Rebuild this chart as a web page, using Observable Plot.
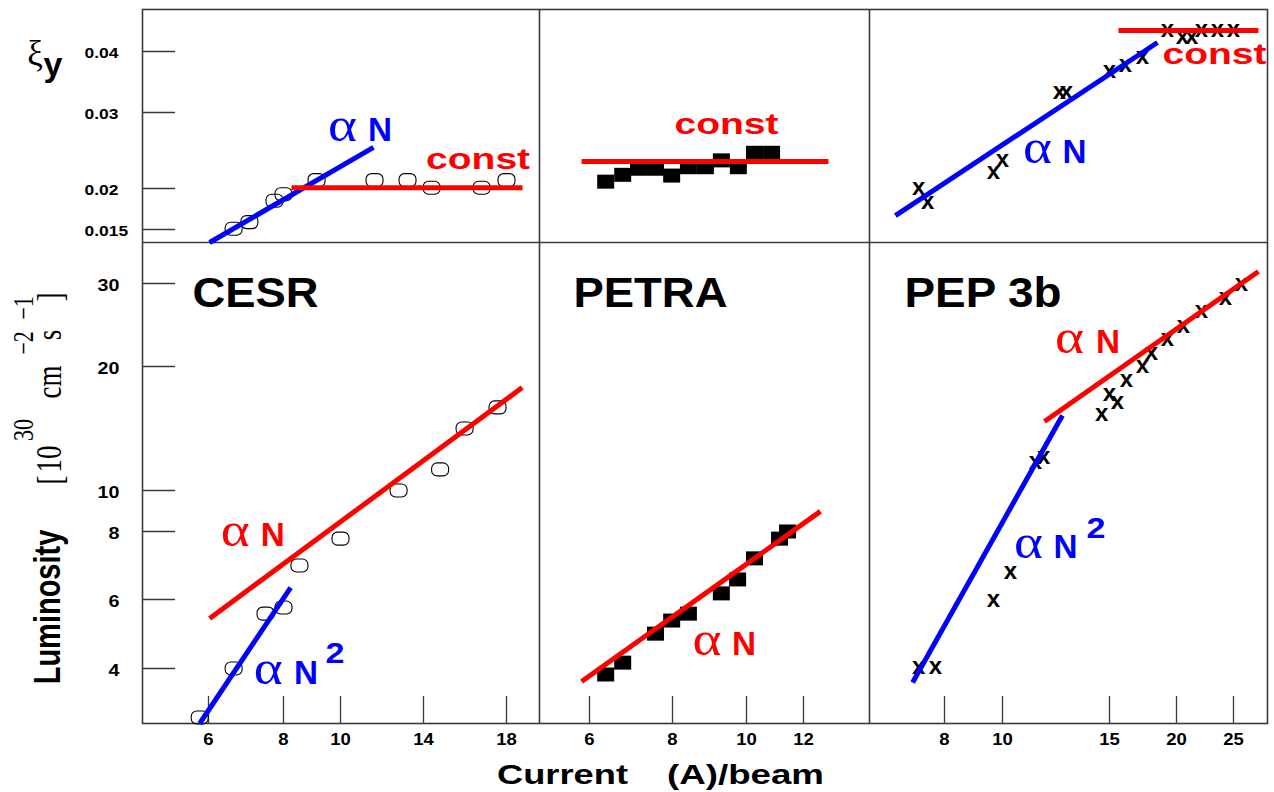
<!DOCTYPE html>
<html><head><meta charset="utf-8">
<script src="https://cdn.jsdelivr.net/npm/d3@7"></script>
<script src="https://cdn.jsdelivr.net/npm/@observablehq/plot@0.6"></script>
<style>
html,body{margin:0;padding:0;background:#fff;overflow:hidden;}
#chart{position:relative;width:1274px;height:792px;background:#fff;}
</style></head><body><div id="chart"></div>
<script>
// ---------------- data ----------------
const machines = ["CESR", "PETRA", "PEP 3b"];

const cesrXiCurrent = [6.67, 7.09, 7.76, 8.0, 9.16, 11.64, 13.23, 14.39, 16.8, 18.0];
const cesrXi = [0.0151, 0.0159, 0.0185, 0.0193, 0.0211, 0.0211, 0.0211, 0.0201, 0.0201, 0.0211];
const cesrLumCurrent = [5.82, 6.67, 7.52, 8.0, 8.56, 10.0, 12.8, 14.8, 15.98, 17.57];
const cesrLum = [3.02, 4.0, 5.59, 5.77, 7.0, 7.79, 10.0, 11.7, 15.0, 16.7];

const petraXiCurrent = [6.39, 6.80, 7.18, 7.59, 7.98, 8.43, 8.89, 9.32, 9.78, 10.28, 10.88];
const petraXi = [0.0209, 0.0218, 0.0226, 0.0226, 0.0217, 0.0228, 0.0228, 0.0237, 0.0228, 0.0247, 0.0247];
const petraLumCurrent = [6.39, 6.80, 7.59, 7.98, 8.43, 9.32, 9.76, 10.28, 11.16, 11.44];
const petraLum = [3.88, 4.17, 5.01, 5.39, 5.59, 6.18, 6.59, 7.21, 7.79, 8.0];

const pepXiCurrent = [7.31, 7.55, 9.69, 10.0, 12.66, 12.99, 15.0, 16.19, 17.46, 19.33, 20.53, 21.32, 22.19, 23.6, 25.0];
const pepXi = [0.0200, 0.0183, 0.0220, 0.0236, 0.0333, 0.0333, 0.0367, 0.0377, 0.0389, 0.0435, 0.0423, 0.0423, 0.0435, 0.0435, 0.0435];
const pepLumCurrent = [7.31, 7.76, 9.69, 10.37, 11.54, 11.92, 14.63, 15.0, 15.6, 16.27, 17.46, 18.13, 19.33, 20.61, 22.19, 24.3, 25.85];
const pepLum = [4.02, 4.02, 5.97, 6.79, 12.26, 12.66, 16.13, 17.74, 17.1, 18.87, 20.0, 21.57, 23.25, 24.82, 26.63, 28.19, 29.88];

// fitted lines (end points, current vs value)
const cesrXiFitN = [[6.03, 0.0142], [11.59, 0.0254]];
const cesrXiFitConst = [[8.28, 0.0201], [19.02, 0.0201]];
const cesrLumFitN = [[6.03, 5.45], [19.0, 18.3]];
const cesrLumFitN2 = [[5.82, 2.9], [8.25, 6.35]];
const petraXiFitConst = [[5.85, 0.02355], [13.08, 0.02355]];
const petraLumFitN = [[5.85, 3.74], [12.73, 8.98]];
const pepXiFitN = [[6.69, 0.0167], [18.58, 0.0415]];
const pepXiFitConst = [[15.67, 0.0435], [27.64, 0.0435]];
const pepLumFitN = [[11.96, 15.56], [27.64, 31.93]];
const pepLumFitN2 = [[7.15, 3.72], [12.8, 16.05]];

// tick values
const cesrTicks = [6, 8, 10, 14, 18];
const petraTicks = [6, 8, 10, 12];
const pepTicks = [8, 10, 15, 20, 25];
const xiTicks = [0.015, 0.02, 0.03, 0.04];
const lumTicks = [4, 6, 8, 10, 20, 30];

// annotations (data coordinates)
const cesrXiNotes = [
  {text: "α", x: 10.10, y: 0.0263, color: "blue"},
  {text: "N", x: 11.90, y: 0.0263, color: "blue"},
  {text: "const", x: 16.63, y: 0.02263, color: "red"}
];
const cesrLumNotes = [
  {text: machines[0], x: 7.25, y: 27.2, color: "black"},
  {text: "α", x: 6.71, y: 7.56, color: "red"},
  {text: "N", x: 7.71, y: 7.56, color: "red"},
  {text: "α", x: 7.59, y: 3.70, color: "blue"},
  {text: "N", x: 8.79, y: 3.70, color: "blue"},
  {text: "2", x: 9.81, y: 4.17, color: "blue"}
];
const petraXiNotes = [
  {text: "const", x: 9.46, y: 0.02711, color: "red"}
];
const petraLumNotes = [
  {text: machines[1], x: 7.47, y: 27.2, color: "black"},
  {text: "α", x: 8.93, y: 4.38, color: "red"},
  {text: "N", x: 9.93, y: 4.38, color: "red"}
];
const pepXiNotes = [
  {text: "const", x: 23.33, y: 0.03787, color: "red"},
  {text: "α", x: 11.64, y: 0.02342, color: "blue"},
  {text: "N", x: 13.36, y: 0.02342, color: "blue"}
];
const pepLumNotes = [
  {text: machines[2], x: 9.33, y: 27.2, color: "black"},
  {text: "α", x: 13.13, y: 21.57, color: "red"},
  {text: "N", x: 14.93, y: 21.57, color: "red"},
  {text: "α", x: 11.21, y: 7.21, color: "blue"},
  {text: "N", x: 12.94, y: 7.21, color: "blue"},
  {text: "2", x: 14.37, y: 7.82, color: "blue"}
];

// ---------------- layout / styles ----------------
const W = 1274, H = 792;
const SANS = "'Liberation Sans', Arial, Helvetica, sans-serif";
const SERIF = "'Liberation Serif', 'Times New Roman', serif";
const COLORS = {red: "#ff0000", blue: "#0000ff", black: "#000000"};
const LINE = "#3a3a3a";
// piecewise position scales (break values -> page pixels)
const scales = {
  cesrX: {domain: [4.65, 6, 8, 10, 14, 18, 20.1], range: [142, 208, 283, 340, 423, 506, 539]},
  petraX: {domain: [5.05, 6, 8, 10, 12, 14.85], range: [539, 589, 672, 746, 803, 869]},
  pepX: {domain: [6.0, 8, 10, 15, 20, 25, 28.6], range: [869, 944, 1002, 1109, 1176, 1233, 1267]},
  xiY: {domain: [0.0142, 0.015, 0.02, 0.03, 0.04, 0.047], range: [242, 229, 188, 112, 51, 9]},
  lumY: {domain: [2.9, 4, 6, 8, 10, 20, 30, 36.6], range: [723, 668, 599, 531, 490, 366, 283, 242]}
};
const labelWidths = {"CESR": 126, "PETRA": 154, "PEP 3b": 157, "const": 104, "α": 29, "N": 24, "2": 19, "Current": 131, "(A)/beam": 157};

const pts = (xs, ys) => xs.map((x, i) => ({x, y: ys[i]}));
const seg = (p) => p.map(([x, y]) => ({x, y}));

const ovalSymbol = {draw(ctx) {
  const w = 8.5, h = 6.5, r = 5.5;
  ctx.moveTo(-w + r, -h); ctx.lineTo(w - r, -h); ctx.arcTo(w, -h, w, -h + r, r);
  ctx.lineTo(w, h - r); ctx.arcTo(w, h, w - r, h, r);
  ctx.lineTo(-w + r, h); ctx.arcTo(-w, h, -w, h - r, r);
  ctx.lineTo(-w, -h + r); ctx.arcTo(-w, -h, -w + r, -h, r); ctx.closePath();
}};
const boxSymbol = {draw(ctx) { ctx.rect(-8.5, -7, 17, 14); }};

function fit(p, color) {
  return Plot.line(seg(p), {x: "x", y: "y", stroke: COLORS[color], strokeWidth: 5, strokeLinecap: "butt"});
}
function notes(list) {
  return list.map(n => {
    const o = {x: "x", y: "y", text: "text", fill: COLORS[n.color], lineAnchor: "bottom", textAnchor: "middle"};
    if (n.text === "α") Object.assign(o, {fontFamily: SERIF, fontSize: 48});
    else if (machines.includes(n.text)) Object.assign(o, {fontFamily: SANS, fontWeight: "bold", fontSize: 42});
    else if (n.text === "N") Object.assign(o, {fontFamily: SANS, fontWeight: "bold", fontSize: 34});
    else Object.assign(o, {fontFamily: SANS, fontWeight: "bold", fontSize: 30});
    return Plot.text([n], o);
  });
}
const tickFont = {fontFamily: SANS, fontWeight: "bold", fill: "#000"};
function xAxisMarks(ticks) {
  return [
    Plot.ruleX(ticks, {x: d => d, insetTop: 687, stroke: LINE, strokeWidth: 1.3}),
    Plot.text(ticks, {x: d => d, text: d => String(d), frameAnchor: "bottom", lineAnchor: "middle", dy: 16, fontSize: 16, ...tickFont})
  ];
}
function yAxisMarks(ticks, anchor, dx, size) {
  return [
    Plot.ruleY(ticks, {y: d => d, insetRight: 1092, stroke: LINE, strokeWidth: 1.3}),
    Plot.text(ticks, {y: d => d, text: d => String(d), frameAnchor: "left", textAnchor: anchor, dx, dy: 2, lineAnchor: "middle", fontSize: size, ...tickFont})
  ];
}
function xMarkers(xs, ys) {
  return Plot.text(pts(xs, ys), {x: "x", y: "y", text: () => "x", fontFamily: SANS, fontWeight: "bold", fontSize: 24, lineAnchor: "middle", dy: -1.5, fill: "#000"});
}

function panel(xs, ys, marks) {
  return Plot.plot({
    width: W, height: H,
    marginLeft: 142, marginRight: 7, marginTop: 9, marginBottom: 69,
    x: {type: "linear", domain: xs.domain, range: xs.range, axis: null},
    y: {type: "linear", domain: ys.domain, range: ys.range, axis: null},
    style: "background:transparent;overflow:visible;position:absolute;left:0;top:0;max-width:none;",
    marks
  });
}

const panels = [
  panel(scales.cesrX, scales.xiY, [
    Plot.frame({stroke: LINE, strokeWidth: 1.6}),
    Plot.ruleX([scales.cesrX.domain[scales.cesrX.domain.length - 1]], {stroke: LINE, strokeWidth: 1.6}),
    Plot.ruleY([scales.xiY.domain[0]], {stroke: LINE, strokeWidth: 1.6}),
    ...yAxisMarks(xiTicks, "start", -58, 15),
    Plot.dot(pts(cesrXiCurrent, cesrXi), {x: "x", y: "y", symbol: ovalSymbol, stroke: "#000", strokeWidth: 1.1, fill: "none"}),
    fit(cesrXiFitN, "blue"), fit(cesrXiFitConst, "red"),
    ...notes(cesrXiNotes)
  ]),
  panel(scales.cesrX, scales.lumY, [
    ...yAxisMarks(lumTicks, "end", -23, 17),
    ...xAxisMarks(cesrTicks),
    Plot.dot(pts(cesrLumCurrent, cesrLum), {x: "x", y: "y", symbol: ovalSymbol, stroke: "#000", strokeWidth: 1.1, fill: "none"}),
    fit(cesrLumFitN, "red"), fit(cesrLumFitN2, "blue"),
    ...notes(cesrLumNotes)
  ]),
  panel(scales.petraX, scales.xiY, [
    Plot.dot(pts(petraXiCurrent, petraXi), {x: "x", y: "y", symbol: boxSymbol, fill: "#000", stroke: "none"}),
    fit(petraXiFitConst, "red"),
    ...notes(petraXiNotes)
  ]),
  panel(scales.petraX, scales.lumY, [
    ...xAxisMarks(petraTicks),
    Plot.dot(pts(petraLumCurrent, petraLum), {x: "x", y: "y", symbol: boxSymbol, fill: "#000", stroke: "none"}),
    fit(petraLumFitN, "red"),
    ...notes(petraLumNotes)
  ]),
  panel(scales.pepX, scales.xiY, [
    Plot.ruleX([scales.pepX.domain[0]], {stroke: LINE, strokeWidth: 1.6}),
    xMarkers(pepXiCurrent, pepXi),
    fit(pepXiFitN, "blue"), fit(pepXiFitConst, "red"),
    ...notes(pepXiNotes)
  ]),
  panel(scales.pepX, scales.lumY, [
    ...xAxisMarks(pepTicks),
    xMarkers(pepLumCurrent, pepLum),
    fit(pepLumFitN, "red"), fit(pepLumFitN2, "blue"),
    ...notes(pepLumNotes)
  ])
];

const chart = document.getElementById("chart");
panels.forEach(p => chart.appendChild(p));

// axis titles
const titles = d3.create("svg").attr("width", W).attr("height", H)
  .attr("style", "position:absolute;left:0;top:0;overflow:visible;");
titles.append("text").attr("x", 35).attr("y", 65).attr("text-anchor", "middle")
  .attr("font-family", SERIF).attr("font-size", 35).text("ξ");
titles.append("text").attr("x", 53).attr("y", 76).attr("text-anchor", "middle")
  .attr("font-family", SANS).attr("font-weight", "bold").attr("font-size", 34).text("y");
titles.append("text").attr("transform", "translate(60,607) rotate(-90) scale(1,1.3)").attr("text-anchor", "middle")
  .attr("font-family", SANS).attr("font-weight", "bold").attr("font-size", 29).text("Luminosity");
const unitPieces = [
  {t: "[", y: 480, b: 62, s: 27}, {t: "10", y: 459, b: 61, s: 27}, {t: "30", y: 430, b: 33, s: 22},
  {t: "cm", y: 382, b: 61, s: 27}, {t: "−2", y: 343, b: 33, s: 22}, {t: "s", y: 335, b: 61, s: 27},
  {t: "−1", y: 308, b: 33, s: 22}, {t: "]", y: 297, b: 62, s: 27}
];
unitPieces.forEach(u => titles.append("text")
  .attr("transform", `translate(${u.b},${u.y}) rotate(-90) scale(1,1.3)`).attr("text-anchor", "middle")
  .attr("font-family", SERIF).attr("font-size", u.s).text(u.t));
titles.append("text").attr("x", 562.5).attr("y", 784).attr("text-anchor", "middle")
  .attr("font-family", SANS).attr("font-weight", "bold").attr("font-size", 28).text("Current");
titles.append("text").attr("x", 745.5).attr("y", 784).attr("text-anchor", "middle")
  .attr("font-family", SANS).attr("font-weight", "bold").attr("font-size", 28).text("(A)/beam");
chart.appendChild(titles.node());

// horizontal stretch of the lettering, as in the reference
chart.querySelectorAll("svg text").forEach(t => {
  const s = t.textContent;
  if (labelWidths[s]) t.setAttribute("textLength", labelWidths[s]);
  else if (/^[\d.]+$/.test(s) && t.closest("g[aria-label]")) t.setAttribute("textLength", (t.getComputedTextLength() * 1.16).toFixed(1));
  else return;
  t.setAttribute("lengthAdjust", "spacingAndGlyphs");
});
</script></body></html>
